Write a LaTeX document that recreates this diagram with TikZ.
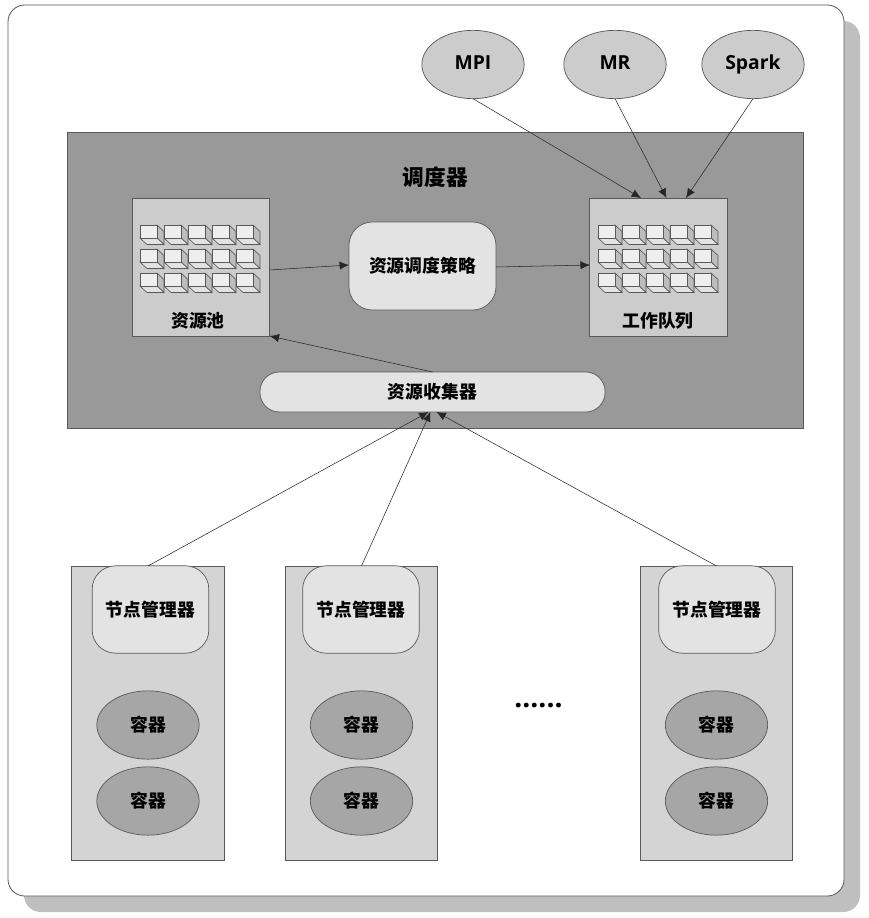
\documentclass[tikz,border=0pt]{standalone}
\usepackage{fontspec}
\setmainfont{Noto Sans CJK SC}
\newfontfamily\latinfont{Open Sans}
\usetikzlibrary{shapes.geometric, arrows.meta, calc}
\definecolor{shadowgray}{HTML}{BFBFBF}
\definecolor{linegray}{HTML}{595959}
\definecolor{schedgray}{HTML}{999999}
\definecolor{boxgray}{HTML}{CCCCCC}
\definecolor{rackgray}{HTML}{D4D4D4}
\definecolor{softgray}{HTML}{E3E3E3}
\definecolor{cellgray}{HTML}{A6A6A6}
\definecolor{sidegray}{HTML}{BDBDBD}
\definecolor{frontgray}{HTML}{EEEEEE}
\tikzset{
    basebox/.style={draw=linegray, line width=0.6pt, inner sep=0pt, outer sep=0pt, font=\bfseries\fontsize{15.2}{15.2}\selectfont},
    panelbox/.style={basebox, rectangle, fill=boxgray, minimum width=4.12cm, minimum height=4.14cm},
    softbox/.style={basebox, rectangle, rounded corners=0.7cm, fill=softgray},
    rackbox/.style={basebox, rectangle, fill=rackgray, minimum width=4.58cm, minimum height=8.82cm},
    managerbox/.style={softbox, minimum width=3.5cm, minimum height=2.62cm},
    jobnode/.style={basebox, ellipse, fill=boxgray, minimum width=3.07cm, minimum height=2.05cm, text height=8pt, text depth=0pt, font=\latinfont\bfseries\fontsize{16.5}{16.5}\selectfont},
    cellnode/.style={basebox, ellipse, fill=cellgray, minimum width=3.07cm, minimum height=2.05cm},
    tag/.style={inner sep=0pt, font=\bfseries\fontsize{15.2}{15.2}\selectfont},
    link/.style={->, draw=black!85, line width=0.45pt},
    cube/.pic={
        \draw[draw=linegray, line width=0.55pt, fill=sidegray] (17,0) -- (24,6.5) -- (24,19.5) -- (17,13) -- cycle;
        \draw[draw=linegray, line width=0.55pt, fill=softgray] (0,13) -- (17,13) -- (24,19.5) -- (7,19.5) -- cycle;
        \draw[draw=linegray, line width=0.55pt, fill=frontgray] (0,0) rectangle (17,13);
    }
}

\begin{document}
\begin{tikzpicture}[x=0.03cm, y=-0.03cm, >={Latex[length=8pt, width=7pt]}]
    \useasboundingbox (0,0) rectangle (869,918);
    % Outer frame
    \fill[shadowgray, rounded corners=0.5cm] (24,21) rectangle (860,912);
    \draw[linegray, line width=0.7pt, fill=white, rounded corners=0.5cm] (8,5) rectangle (844,896);
    % Scheduler
    \node[basebox, rectangle, fill=schedgray, minimum width=22.08cm, minimum height=8.88cm] (sched) at (435,280) {};
    \node[tag, font=\bfseries\fontsize{18.5}{18.5}\selectfont] (schedtitle) at (435.5,177) {调度器};
    \node[panelbox] (pool) at (201,267) {};
    \node[panelbox] (queue) at (658.5,267) {};
    \node[tag] (pooltext) at (198,321) {资源池};
    \node[tag] (queuetext) at (658,321) {工作队列};
    \node[softbox, minimum width=4.41cm, minimum height=2.64cm] (policy) at (422.5,266) {资源调度策略};
    \node[basebox, rectangle, rounded corners=0.58cm, fill=softgray, minimum width=10.35cm, minimum height=1.2cm] (collector) at (432.5,392) {资源收集器};
    % Small cubes
    \foreach \bx in {140,598}
        \foreach \row in {0,1,2}
            \foreach \col in {0,...,4}
                \pic at ({\bx+24*\col},{225+24*\row}) {cube};
    % Jobs
    \node[jobnode] (mpi) at (473,64.5) {MPI};
    \node[jobnode] (mr) at (615,64.5) {MR};
    \node[jobnode] (spark) at (753,64.5) {Spark};
    % Racks
    \foreach \name/\cx/\mx in {a/148/150.5, b/361.5/361, c/716.5/717} {
        \node[rackbox] (rack\name) at (\cx,713) {};
        \node[managerbox] (mgr\name) at (\mx,609.5) {节点管理器};
        \node[cellnode] (cell\name1) at (\cx,725) {容器};
        \node[cellnode] (cell\name2) at (\cx,801) {容器};
    }
    \node[tag, font=\latinfont\bfseries\fontsize{24}{24}\selectfont] (dots) at (538.5,706) {......};
    % Arrows
    \draw[link] (mpi.south) -- ($(queue.north)+(-17.5,0)$);
    \draw[link] (mr.south) -- ($(queue.north)+(8,0)$);
    \draw[link] (spark.south) -- ($(queue.north)+(27.5,0)$);
    \draw[link] ($(pool.east)+(0,3)$) -- ($(policy.west)+(0,-1)$);
    \draw[link] ($(policy.east)+(0,1)$) -- ($(queue.west)+(0,-2)$);
    \draw[link] (collector.north) -- (pool.south east);
    \draw[link] (racka.north) -- ($(collector.south)+(-4,0)$);
    \draw[link] (rackb.north) -- ($(collector.south)+(-2,0)$);
    \draw[link] (rackc.north) -- ($(collector.south)+(4,0)$);
\end{tikzpicture}
\end{document}
